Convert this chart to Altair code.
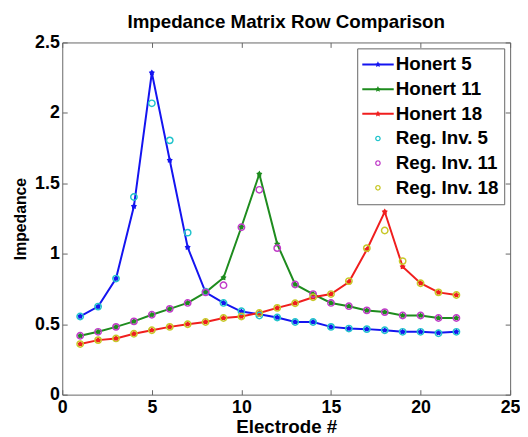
import altair as alt
import pandas as pd

electrodes = list(range(1, 23))

honert5 = [0.555, 0.625, 0.824, 1.337, 2.285, 1.664, 1.046, 0.726, 0.651, 0.590, 0.570,
           0.548, 0.516, 0.516, 0.481, 0.469, 0.465, 0.457, 0.446, 0.446, 0.439, 0.446]
honert11 = [0.418, 0.446, 0.481, 0.520, 0.567, 0.609, 0.651, 0.726, 0.830, 1.190, 1.566,
            1.069, 0.782, 0.714, 0.651, 0.628, 0.598, 0.586, 0.562, 0.562, 0.544, 0.544]
honert18 = [0.359, 0.387, 0.399, 0.432, 0.457, 0.481, 0.500, 0.516, 0.544, 0.555, 0.580,
            0.616, 0.649, 0.691, 0.714, 0.800, 1.029, 1.298, 0.908, 0.791, 0.726, 0.707]
reginv5 = [0.555, 0.625, 0.824, 1.403, 2.068, 1.805, 1.150, 0.730, 0.651, 0.592, 0.562,
           0.548, 0.516, 0.516, 0.481, 0.469, 0.465, 0.457, 0.446, 0.446, 0.436, 0.446]
reginv11 = [0.418, 0.446, 0.481, 0.520, 0.567, 0.609, 0.651, 0.726, 0.777, 1.188, 1.454,
            1.040, 0.782, 0.714, 0.651, 0.628, 0.598, 0.586, 0.562, 0.562, 0.544, 0.544]
reginv18 = [0.359, 0.387, 0.399, 0.432, 0.457, 0.481, 0.500, 0.516, 0.544, 0.555, 0.580,
            0.616, 0.649, 0.691, 0.714, 0.806, 1.040, 1.165, 0.948, 0.791, 0.726, 0.707]

series_names = ["Honert 5", "Honert 11", "Honert 18",
                "Reg. Inv. 5", "Reg. Inv. 11", "Reg. Inv. 18"]
series_values = [honert5, honert11, honert18, reginv5, reginv11, reginv18]
x_ticks = [0, 5, 10, 15, 20, 25]
y_ticks = [0, 0.5, 1, 1.5, 2, 2.5]

# styles
series_colors = ["#1414F0", "#1E8C1E", "#F01E1E", "#22C4CC", "#C03CC8", "#C8C828"]
AXIS_GRAY = "#666666"
star_path = ("M0,-1L0.38,-0.5L0.95,-0.31L0.6,0.2L0.59,0.81L0,0.64L-0.59,0.81"
             "L-0.6,0.2L-0.95,-0.31L-0.38,-0.5Z")
legend_line = ("M-1,-0.065H1V0.065H-1Z"
               "M0,-0.2L0.06,-0.08L0.19,-0.062L0.095,0.03L0.118,0.162L0,0.1"
               "L-0.118,0.162L-0.095,0.03L-0.19,-0.062L-0.06,-0.08Z")
legend_ring = ("M0.18,0A0.18,0.18 0 1,1 -0.18,0A0.18,0.18 0 1,1 0.18,0Z"
               "M0.1,0A0.1,0.1 0 1,0 -0.1,0A0.1,0.1 0 1,0 0.1,0Z")
legend_shapes = [legend_line, legend_line, legend_line, legend_ring, legend_ring, legend_ring]

rows = []
for name, vals in zip(series_names, series_values):
    kind = "honert" if name.startswith("Honert") else "reg"
    for e, v in zip(electrodes, vals):
        rows.append({"electrode": e, "impedance": v, "series": name, "kind": kind})
df = pd.DataFrame(rows)

W, H = 454, 357
FONT = "Liberation Sans"


def xs():
    return alt.Scale(domain=[0, 25], nice=False, zero=False)


def ys():
    return alt.Scale(domain=[0, 2.5], nice=False, zero=False)


def color(legend=None):
    return alt.Color("series:N", scale=alt.Scale(domain=series_names, range=series_colors),
                     legend=legend)


main_x = alt.Axis(values=x_ticks, ticks=False, tickSize=0, domain=False, grid=False,
                  labelFont=FONT, labelFontSize=18, labelFontWeight="bold", labelColor="black",
                  labelPadding=4, labelFlush=False, labelOverlap=False,
                  title="Electrode #", titleFont=FONT, titleFontSize=19, titleFontWeight="bold",
                  titleColor="black", titlePadding=1)
main_y = alt.Axis(values=y_ticks, ticks=False, tickSize=0, domain=False, grid=False,
                  labelFont=FONT, labelFontSize=18, labelFontWeight="bold", labelColor="black",
                  labelPadding=3, labelOverlap=False, format=".1~f",
                  title="Impedance", titleFont=FONT, titleFontSize=16, titleFontWeight="bold",
                  titleColor="black", titlePadding=6)


def tick_axis(orient, offset, vals):
    return alt.Axis(orient=orient, offset=offset, values=vals, labels=False, ticks=True,
                    tickSize=5, tickColor=AXIS_GRAY, tickWidth=1, domain=False, grid=False,
                    title=None)


base = alt.Chart(df)

legend_layer = base.transform_filter("false").mark_point(
    filled=True, opacity=1, strokeWidth=0
).encode(
    x=alt.X("electrode:Q", scale=xs(), axis=tick_axis("top", -H, x_ticks)),
    y=alt.Y("impedance:Q", scale=ys(), axis=tick_axis("right", -W, y_ticks)),
    color=color(alt.Legend(title=None)),
    shape=alt.Shape("series:N", scale=alt.Scale(domain=series_names, range=legend_shapes),
                    legend=alt.Legend(title=None)),
)

lines = base.transform_filter("datum.kind == 'honert'").mark_line(strokeWidth=2).encode(
    x=alt.X("electrode:Q", scale=xs(), axis=main_x),
    y=alt.Y("impedance:Q", scale=ys(), axis=main_y),
    color=color(),
)

stars = base.transform_filter("datum.kind == 'honert'").mark_point(
    filled=True, shape=star_path, size=42, opacity=1, strokeWidth=0.8
).encode(
    x=alt.X("electrode:Q", scale=xs(), axis=None),
    y=alt.Y("impedance:Q", scale=ys(), axis=None),
    color=color(),
)

circles = base.transform_filter("datum.kind == 'reg'").mark_point(
    filled=False, shape="circle", size=42, opacity=1, strokeWidth=1.5
).encode(
    x=alt.X("electrode:Q", scale=xs(), axis=None),
    y=alt.Y("impedance:Q", scale=ys(), axis=None),
    color=color(),
)

tick_layer = base.transform_filter("false").mark_point(opacity=0).encode(
    x=alt.X("electrode:Q", scale=xs(), axis=tick_axis("bottom", -H, x_ticks)),
    y=alt.Y("impedance:Q", scale=ys(), axis=tick_axis("left", -W, y_ticks)),
)

chart = alt.layer(legend_layer, lines, stars, circles, tick_layer).resolve_scale(
    x="independent", y="independent"
).properties(
    width=W, height=H,
    title=alt.Title("Impedance Matrix Row Comparison", font=FONT, fontSize=19,
                    fontWeight="bold", color="black", offset=2, anchor="middle"),
    autosize=alt.AutoSizeParams(type="none"),
    padding={"left": 55, "top": 32, "right": 10, "bottom": 40},
    background="white",
).configure_view(
    stroke=AXIS_GRAY, strokeWidth=1
).configure_legend(
    orient="top-right", offset=6, padding=5, strokeColor=AXIS_GRAY, fillColor="white",
    labelFont=FONT, labelFontSize=19, labelFontWeight="bold", labelColor="black",
    symbolSize=1024, symbolStrokeWidth=0, clipHeight=22.7, rowPadding=2, labelOffset=2,
    symbolOpacity=1, cornerRadius=0
)

chart.save("out.html", embed_options={"renderer": "svg", "actions": False})
